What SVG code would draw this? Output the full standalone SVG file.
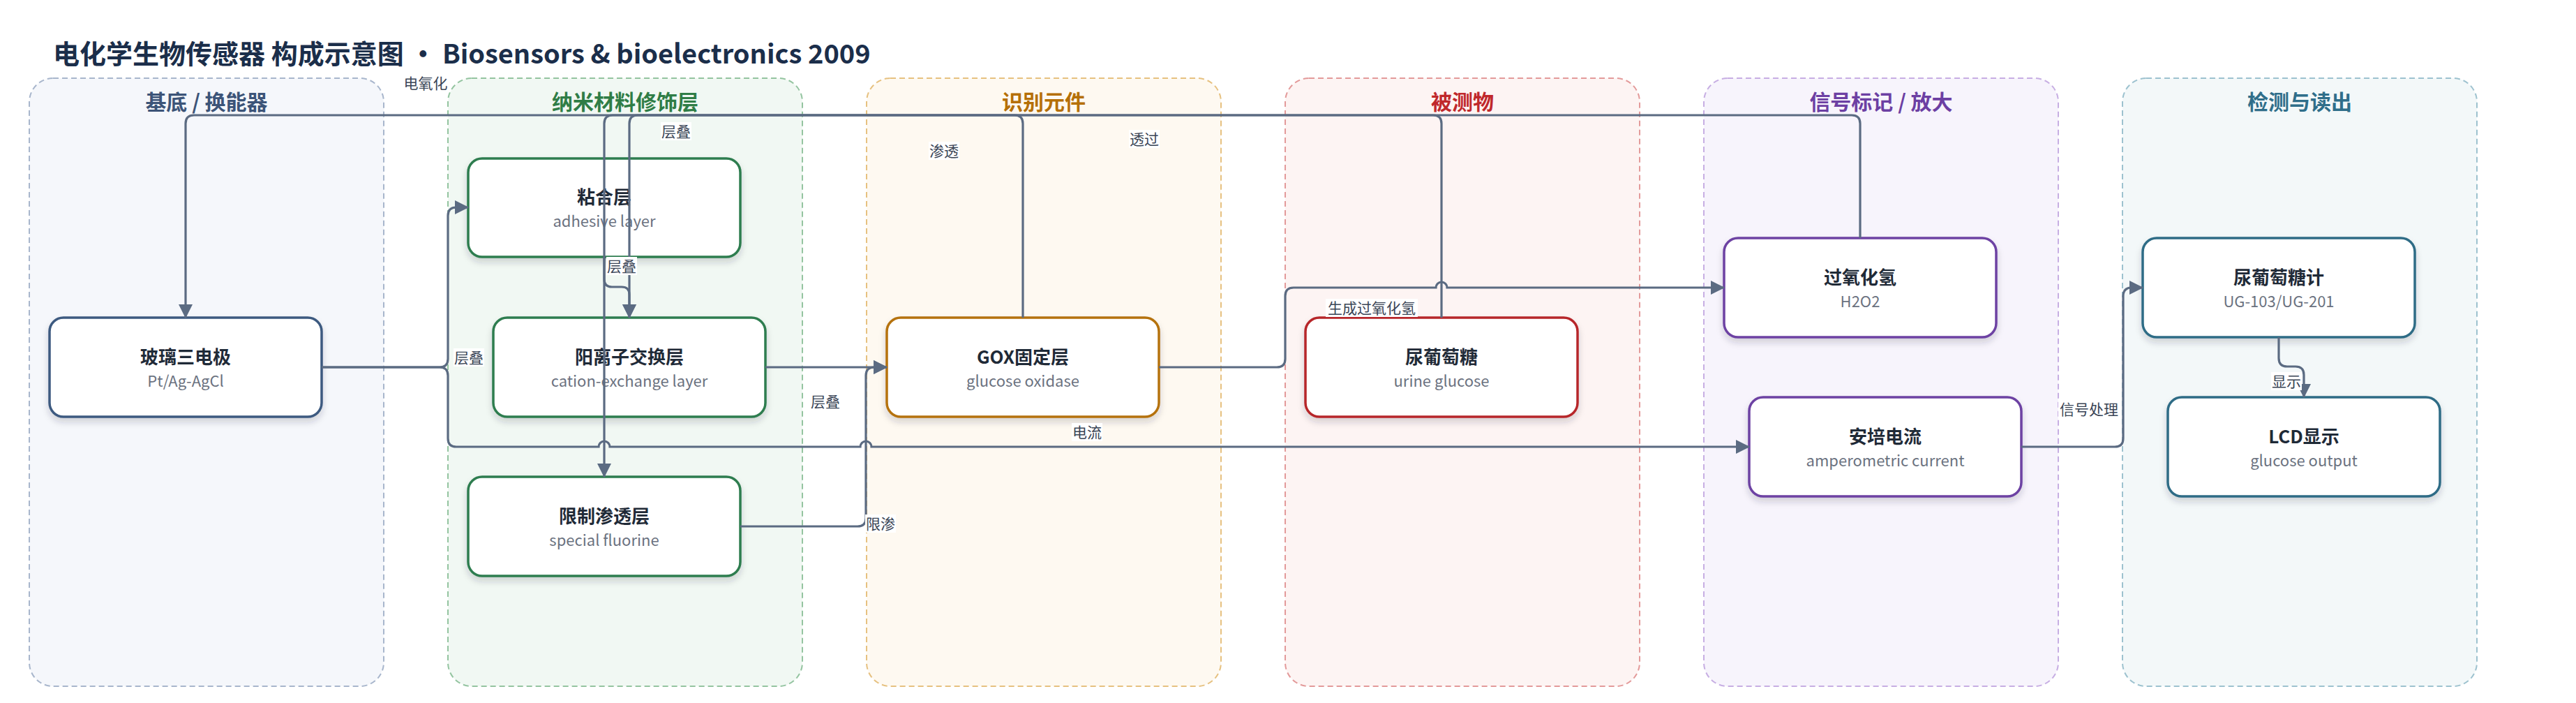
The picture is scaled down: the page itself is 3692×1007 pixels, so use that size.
<svg xmlns="http://www.w3.org/2000/svg" width="3692" height="1007" viewBox="0 0 3692 1007">
<defs>
<style>
text{font-family:"Noto Sans CJK SC","Noto Sans",sans-serif;}
.title{font-size:38px;font-weight:700;fill:#1b2e4a;}
.gt{font-size:30px;font-weight:700;text-anchor:middle;}
.grp{stroke-width:2;stroke-dasharray:8 5;}
.node{fill:#fff;stroke-width:3.5;filter:url(#sh);}
.nt{font-size:26px;font-weight:700;fill:#1f2a37;text-anchor:middle;}
.ns{font-size:22px;fill:#6b7280;text-anchor:middle;}
.e{fill:none;stroke:#5b6b82;stroke-width:3.2;}
.ea{marker-end:url(#arr);}
.lb{font-size:21px;fill:#3a4556;text-anchor:middle;}
.lbg{fill:#fff;}
</style>
<marker id="arr" viewBox="0 0 20 20" refX="19" refY="10" markerWidth="20" markerHeight="20" markerUnits="userSpaceOnUse" orient="auto">
<path d="M0,0 L20,10 L0,20 Z" fill="#5b6b82"/>
</marker>
<filter id="sh" x="-10%" y="-20%" width="120%" height="150%">
<feDropShadow dx="0" dy="6" stdDeviation="5" flood-color="#1f2937" flood-opacity="0.18"/>
</filter>
</defs>
<rect width="3692" height="1007" fill="#fff"/>
<text class="title" x="76" y="91">电化学生物传感器 构成示意图 · Biosensors &amp; bioelectronics 2009</text>

<g id="groups">
<g id="g-substrate"><rect class="grp" x="42" y="112" width="508" height="871" rx="34" fill="#f5f7fb" stroke="#a8b6cc"/><text class="gt" x="296" y="157" fill="#3c5478">基底 / 换能器</text></g>
<g id="g-nano"><rect class="grp" x="642" y="112" width="508" height="871" rx="34" fill="#f1f8f3" stroke="#94c4a0"/><text class="gt" x="896" y="157" fill="#2f7d46">纳米材料修饰层</text></g>
<g id="g-recog"><rect class="grp" x="1242" y="112" width="508" height="871" rx="34" fill="#fef9f1" stroke="#e6c180"/><text class="gt" x="1496" y="157" fill="#b56f06">识别元件</text></g>
<g id="g-analyte"><rect class="grp" x="1842" y="112" width="508" height="871" rx="34" fill="#fdf4f3" stroke="#e39a9a"/><text class="gt" x="2096" y="157" fill="#c0282b">被测物</text></g>
<g id="g-signal"><rect class="grp" x="2442" y="112" width="508" height="871" rx="34" fill="#f7f4fc" stroke="#c7aee3"/><text class="gt" x="2696" y="157" fill="#6c3fa3">信号标记 / 放大</text></g>
<g id="g-readout"><rect class="grp" x="3042" y="112" width="508" height="871" rx="34" fill="#f3f8f9" stroke="#9dc2cf"/><text class="gt" x="3296" y="157" fill="#2f6e8a">检测与读出</text></g>
</g>

<g id="nodes">
<g id="n-electrode"><rect class="node" x="71" y="455" width="390" height="142" rx="20" stroke="#3d5a80"/><text class="nt" x="266" y="521">玻璃三电极</text><text class="ns" x="266" y="554">Pt/Ag-AgCl</text></g>
<g id="n-adhesive"><rect class="node" x="671" y="227" width="390" height="141" rx="20" stroke="#2e7d4f"/><text class="nt" x="866" y="292">粘合层</text><text class="ns" x="866" y="325">adhesive layer</text></g>
<g id="n-cation"><rect class="node" x="707" y="455" width="390" height="142" rx="20" stroke="#2e7d4f"/><text class="nt" x="902" y="521">阳离子交换层</text><text class="ns" x="902" y="554">cation-exchange layer</text></g>
<g id="n-limit"><rect class="node" x="671" y="683" width="390" height="142" rx="20" stroke="#2e7d4f"/><text class="nt" x="866" y="749">限制渗透层</text><text class="ns" x="866" y="782">special fluorine</text></g>
<g id="n-gox"><rect class="node" x="1271" y="455" width="390" height="142" rx="20" stroke="#b5720c"/><text class="nt" x="1466" y="521">GOX固定层</text><text class="ns" x="1466" y="554">glucose oxidase</text></g>
<g id="n-glucose"><rect class="node" x="1871" y="455" width="390" height="142" rx="20" stroke="#b7282a"/><text class="nt" x="2066" y="521">尿葡萄糖</text><text class="ns" x="2066" y="554">urine glucose</text></g>
<g id="n-h2o2"><rect class="node" x="2471" y="341" width="390" height="142" rx="20" stroke="#6d42a3"/><text class="nt" x="2666" y="407">过氧化氢</text><text class="ns" x="2666" y="440">H2O2</text></g>
<g id="n-current"><rect class="node" x="2507" y="569" width="390" height="142" rx="20" stroke="#6d42a3"/><text class="nt" x="2702" y="635">安培电流</text><text class="ns" x="2702" y="668">amperometric current</text></g>
<g id="n-meter"><rect class="node" x="3071" y="341" width="390" height="142" rx="20" stroke="#2f6c86"/><text class="nt" x="3266" y="407">尿葡萄糖计</text><text class="ns" x="3266" y="440">UG-103/UG-201</text></g>
<g id="n-lcd"><rect class="node" x="3107" y="569" width="390" height="142" rx="20" stroke="#2f6c86"/><text class="nt" x="3302" y="635">LCD显示</text><text class="ns" x="3302" y="668">glucose output</text></g>
</g>

<g id="connectors">
<path class="e ea" d="M2666,341 V177 Q2666,165 2654,165 H278 Q266,165 266,177 V455"/>
<path class="e ea" d="M1466,455 V177 Q1466,165 1454,165 H878 Q866,165 866,177 V683"/>
<path class="e ea" d="M2066,455 V177 Q2066,165 2054,165 H914 Q902,165 902,177 V455"/>
<path class="e ea" d="M866,368 V400 Q866,411 877,411 H891 Q902,411 902,422 V455"/>
<path class="e ea" d="M461,526 H630 Q642,526 642,514 V309 Q642,297 654,297 H671"/>
<path class="e ea" d="M461,526 H630 Q642,526 642,538 V628 Q642,640 654,640 H858 A8,8 0 0 1 874,640 H1233 A8,8 0 0 1 1249,640 H2507"/>
<path class="e ea" d="M1097,526 H1271"/>
<path class="e ea" d="M1061,754 H1229 Q1241,754 1241,742 V538 Q1241,526 1253,526 H1271"/>
<path class="e ea" d="M1661,526 H1830 Q1842,526 1842,514 V424 Q1842,412 1854,412 H2058 A8,8 0 0 1 2074,412 H2471"/>
<path class="e ea" d="M2897,640 H3031 Q3043,640 3043,628 V424 Q3043,412 3055,412 H3071"/>
<path class="e ea" d="M3266,483 V513 Q3266,525 3278,525 H3290 Q3302,525 3302,537 V569"/>
</g>

<g id="labels">
<text class="lb" x="610" y="127">电氧化</text>
<rect class="lbg" x="947" y="175" width="44" height="26"/><text class="lb" x="969" y="196">层叠</text>
<rect class="lbg" x="869" y="368" width="44" height="26"/><text class="lb" x="891" y="389">层叠</text>
<rect class="lbg" x="650" y="499" width="44" height="26"/><text class="lb" x="672" y="520">层叠</text>
<text class="lb" x="1183" y="583">层叠</text>
<rect class="lbg" x="1240" y="737" width="44" height="26"/><text class="lb" x="1262" y="758">限渗</text>
<rect class="lbg" x="1331" y="203" width="44" height="26"/><text class="lb" x="1353" y="224">渗透</text>
<rect class="lbg" x="1618" y="186" width="44" height="26"/><text class="lb" x="1640" y="207">透过</text>
<rect class="lbg" x="1900" y="428" width="132" height="26"/><text class="lb" x="1966" y="449">生成过氧化氢</text>
<rect class="lbg" x="1536" y="606" width="44" height="26"/><text class="lb" x="1558" y="627">电流</text>
<rect class="lbg" x="2950" y="573" width="88" height="26"/><text class="lb" x="2994" y="594">信号处理</text>
<rect class="lbg" x="3255" y="533" width="44" height="26"/><text class="lb" x="3277" y="554">显示</text>
</g>
</svg>
